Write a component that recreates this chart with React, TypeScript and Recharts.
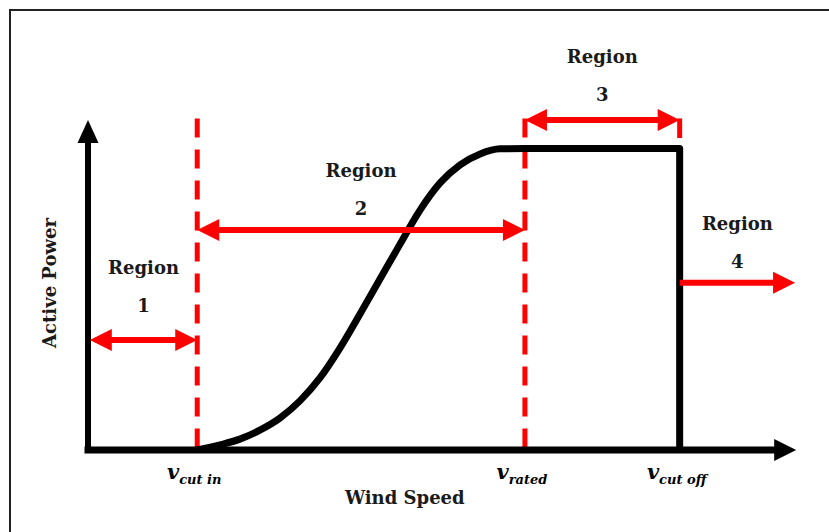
import * as React from 'react';
import { ComposedChart, Line, XAxis, YAxis, ReferenceLine, ReferenceDot } from 'recharts';

// wind speed units along x, per-unit power along y
const X_MAX = 19.5;
const Y_MAX = 1.4;
const AXIS_TOP = 1.095;

const speedTicks = [3, 12, 16.25];
const speedTickSubs = ['cut in', 'rated', 'cut off'];

const curveSpeed = [3.0, 3.63, 4.17, 4.72, 5.27, 5.82, 6.37, 6.92, 7.47, 8.02, 8.57, 9.12, 9.67, 10.22, 10.77, 11.32, 12.0, 16.25];
const curvePower = [0.0, 0.017, 0.036, 0.066, 0.106, 0.163, 0.239, 0.338, 0.451, 0.567, 0.683, 0.796, 0.886, 0.946, 0.982, 0.999, 1.0, 1.0];

const cutOffSpeed = [16.25, 16.25];
const cutOffPower = [1.0, 0.0];

const regionNumbers = ['1', '2', '3', '4'];
const regionStart = [0.05, 3, 12, 16.25];
const regionEnd = [3, 12, 16.25, 19.42];
const regionArrowY = [0.365, 0.73, 1.095, 0.555];
const regionLabelY = [0.604, 0.926, 1.304, 0.753];
const regionBothHeads = [true, true, true, false];

const dashedSpeeds = [3, 12];

const curveData = curveSpeed.map((x, i) => ({ x, p: curvePower[i] }));
const dropData = cutOffSpeed.map((x, i) => ({ x, p: cutOffPower[i] }));

const RED = '#ff0000';
const FONT = '"DejaVu Serif", serif';

const arrowShape = (color: string, width: number, headLen: number, headW: number, both: boolean, cap = 'butt') =>
  (p: any) => {
    const { x1, y1, x2, y2 } = p;
    const len = Math.hypot(x2 - x1, y2 - y1) || 1;
    const ux = (x2 - x1) / len;
    const uy = (y2 - y1) / len;
    const nx = -uy;
    const ny = ux;
    const head = (tx: number, ty: number, dx: number, dy: number) => {
      const bx = tx - dx * headLen;
      const by = ty - dy * headLen;
      return `${tx},${ty} ${bx + nx * headW / 2},${by + ny * headW / 2} ${bx - nx * headW / 2},${by - ny * headW / 2}`;
    };
    const sx = both ? x1 + ux * (headLen - 2) : x1;
    const sy = both ? y1 + uy * (headLen - 2) : y1;
    const ex = x2 - ux * (headLen - 2);
    const ey = y2 - uy * (headLen - 2);
    return (
      <g>
        <line x1={sx} y1={sy} x2={ex} y2={ey} stroke={color} strokeWidth={width} strokeLinecap={cap as any} />
        <polygon points={head(x2, y2, ux, uy)} fill={color} />
        {both && <polygon points={head(x1, y1, -ux, -uy)} fill={color} />}
      </g>
    );
  };

const SpeedTick = (props: any) => {
  const { x, y, payload } = props;
  const idx = speedTicks.indexOf(payload.value);
  return (
    <text x={x - 3} y={y + 21} textAnchor="middle" fontFamily={FONT} fontWeight="bold" fontStyle="italic" fill="#000">
      <tspan fontSize={21}>v</tspan>
      <tspan fontSize={13} dy={5}>{speedTickSubs[idx]}</tspan>
    </text>
  );
};

const regionLabel = (num: string) => (p: any) => (
  <g>
    <text x={p.cx} y={p.cy} textAnchor="middle" dominantBaseline="central" fontFamily={FONT} fontWeight="bold" fontSize={18} fill="#1a1a1a">
      Region
    </text>
    <text x={p.cx} y={p.cy + 38} textAnchor="middle" dominantBaseline="central" fontFamily={FONT} fontWeight="bold" fontSize={18} fill="#1a1a1a">
      {num}
    </text>
  </g>
);

const powerLabel = (p: any) => (
  <text
    x={p.cx - 38}
    y={p.cy}
    transform={`rotate(-90, ${p.cx - 38}, ${p.cy})`}
    textAnchor="middle"
    dominantBaseline="central"
    fontFamily={FONT}
    fontWeight="bold"
    fontSize={18}
    fill="#1a1a1a"
  >
    Active Power
  </text>
);

const speedLabel = (p: any) => (
  <text x={p.cx} y={p.cy + 47} textAnchor="middle" dominantBaseline="central" fontFamily={FONT} fontWeight="bold" fontSize={18} fill="#1a1a1a">
    Wind Speed
  </text>
);

export default function App() {
  return (
    <div style={{ position: 'absolute', left: 0, top: 0, width: 829, height: 532, background: '#fff' }}>
      <div
        style={{
          position: 'absolute',
          left: 9,
          top: 9,
          right: 0,
          bottom: 0,
          borderLeft: '2px solid #222',
          borderTop: '2px solid #222',
        }}
      />
      <div style={{ position: 'absolute', left: 0, top: 0 }}>
        <ComposedChart width={829} height={532} margin={{ top: 28, right: 31, bottom: 28, left: 88 }}>
          <XAxis
            type="number"
            dataKey="x"
            domain={[0, X_MAX]}
            ticks={speedTicks}
            interval={0}
            tick={<SpeedTick />}
            axisLine={false}
            tickLine={false}
            height={54}
            allowDataOverflow
          />
          <YAxis type="number" dataKey="p" domain={[0, Y_MAX]} hide allowDataOverflow />

          {dashedSpeeds.map((s) => (
            <ReferenceLine
              key={`dash-${s}`}
              segment={[{ x: s, y: 1.1 }, { x: s, y: 0 }]}
              stroke={RED}
              strokeWidth={5}
              strokeDasharray="19 12"
            />
          ))}
          <ReferenceLine segment={[{ x: 16.25, y: 1.1 }, { x: 16.25, y: 1.035 }]} stroke={RED} strokeWidth={5} />

          <Line data={curveData} dataKey="p" type="monotone" stroke="#000" strokeWidth={7} dot={false} isAnimationActive={false} strokeLinecap="round" />
          <Line data={dropData} dataKey="p" type="linear" stroke="#000" strokeWidth={7} dot={false} isAnimationActive={false} strokeLinejoin="round" />

          {/* axes with arrow heads */}
          <ReferenceLine segment={[{ x: 0, y: 0 }, { x: 0, y: AXIS_TOP }]} shape={arrowShape('#000', 6, 23, 21, false, 'square')} />
          <ReferenceLine segment={[{ x: 0, y: 0 }, { x: X_MAX - 0.05, y: 0 }]} shape={arrowShape('#000', 7, 22, 22, false, 'square')} />

          {regionNumbers.map((n, i) => (
            <ReferenceLine
              key={`arrow-${n}`}
              segment={[{ x: regionStart[i], y: regionArrowY[i] }, { x: regionEnd[i], y: regionArrowY[i] }]}
              shape={arrowShape(RED, 6, 22, 22, regionBothHeads[i])}
            />
          ))}

          {regionNumbers.map((n, i) => (
            <ReferenceDot
              key={`label-${n}`}
              x={(regionStart[i] + regionEnd[i]) / 2}
              y={regionLabelY[i]}
              r={1}
              shape={regionLabel(n)}
              ifOverflow="visible"
            />
          ))}

          <ReferenceDot x={0} y={0.554} r={1} shape={powerLabel} ifOverflow="visible" />
          <ReferenceDot x={8.7} y={0} r={1} shape={speedLabel} ifOverflow="visible" />
        </ComposedChart>
      </div>
    </div>
  );
}
